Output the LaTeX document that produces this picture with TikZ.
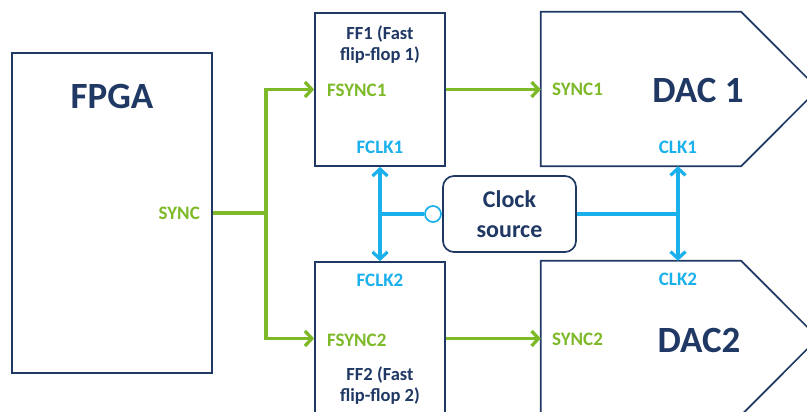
\documentclass[tikz,border=0pt]{standalone}
\usepackage{fontspec}
\setmainfont{Carlito}
\usetikzlibrary{arrows.meta,calc}
\definecolor{navy}{HTML}{1F3864}
\definecolor{grn}{HTML}{7DB928}
\definecolor{skyb}{HTML}{1AB0EC}
\begin{document}
\begin{tikzpicture}[x=1pt,y=-1pt,
  blk/.style={draw=navy, line width=1.7pt, fill=white, inner sep=0pt},
  title/.style={font=\fontsize{37}{40}\selectfont\bfseries, text=navy, inner sep=0pt},
  ntext/.style={font=\fontsize{18.5}{21}\selectfont\bfseries, text=navy, inner sep=0pt, align=center},
  gl/.style={font=\fontsize{19}{20}\selectfont\bfseries, text=grn, inner sep=0pt},
  bl/.style={font=\fontsize{19}{20}\selectfont\bfseries, text=skyb, inner sep=0pt},
  gline/.style={draw=grn, line width=3.3pt},
  garrow/.style={gline, -{Straight Barb[length=7pt,width=15pt]}},
  bline/.style={draw=skyb, line width=3.2pt},
  barrow/.style={bline, {Straight Barb[length=7pt,width=15pt]}-{Straight Barb[length=7pt,width=15pt]}}
]
\useasboundingbox (0,0) rectangle (807,412);
\begin{scope}
\clip (0,0) rectangle (807,412);
% FPGA
\node[blk, minimum width=200pt, minimum height=320pt] (fpga) at (112,213) {};
\node[title] (fpgat) at (112,96) {FPGA};
\node[gl, anchor=east] (sync) at (200,213) {SYNC};
% flip-flops
\node[blk, minimum width=130pt, minimum height=153pt] (ff1) at (380,89.5) {};
\node[ntext] (ff1t) at (380,45) {FF1 (Fast\\flip-flop 1)};
\node[gl, anchor=west] (fsync1) at (327,90) {FSYNC1};
\node[bl] (fclk1) at (380,147) {FCLK1};
\node[blk, minimum width=130pt, minimum height=153pt] (ff2) at (380,338.5) {};
\node[bl] (fclk2) at (380,280) {FCLK2};
\node[gl, anchor=west] (fsync2) at (327,340) {FSYNC2};
\node[ntext] (ff2t) at (380,386) {FF2 (Fast\\flip-flop 2)};
% DACs
\node[minimum width=200pt, minimum height=154pt, inner sep=0pt] (dac1) at (641,89) {};
\draw[navy, line width=1.7pt, fill=white, line join=miter] (dac1.north west) -- (dac1.north east) -- ($(dac1.east)+(77,0)$) -- (dac1.south east) -- (dac1.south west) -- cycle;
\node[gl, anchor=west] (sync1) at (552,89) {SYNC1};
\node[title] (dac1t) at (698,90) {DAC 1};
\node[bl] (clk1) at (678,147) {CLK1};
\node[minimum width=200pt, minimum height=154pt, inner sep=0pt] (dac2) at (641,338) {};
\draw[navy, line width=1.7pt, fill=white, line join=miter] (dac2.north west) -- (dac2.north east) -- ($(dac2.east)+(77,0)$) -- (dac2.south east) -- (dac2.south west) -- cycle;
\node[gl, anchor=west] (sync2) at (552,339) {SYNC2};
\node[title] (dac2t) at (699,340) {DAC2};
\node[bl] (clk2) at (678,279) {CLK2};
% clock source
\node[blk, rounded corners=11pt, minimum width=133pt, minimum height=76pt, font=\fontsize{24}{30}\selectfont\bfseries, text=navy, align=center] (clk) at (509.5,214) {Clock\\source};
% sync connections
\coordinate (j) at (266,213);
\draw[gline] (fpga.east |- sync) -- (j);
\draw[garrow] (j) |- (ff1.west);
\draw[garrow] (j) |- (ff2.west);
\draw[garrow] (ff1.east) -- (ff1.east -| dac1.west);
\draw[garrow] (ff2.east) -- (ff2.east -| dac2.west);
% clock connections
\draw[barrow] (ff1.south) -- (ff2.north);
\node[circle, draw=skyb, line width=1.7pt, fill=white, minimum size=16pt, inner sep=0pt] (dot) at (433,214) {};
\draw[bline] (dot.west) -- (dot.west -| ff1.south);
\draw[bline] (clk.east |- dot) -- (clk1 |- dot);
\draw[barrow] (clk1 |- dac1.south) -- (clk2 |- dac2.north);
\end{scope}
\end{tikzpicture}
\end{document}
